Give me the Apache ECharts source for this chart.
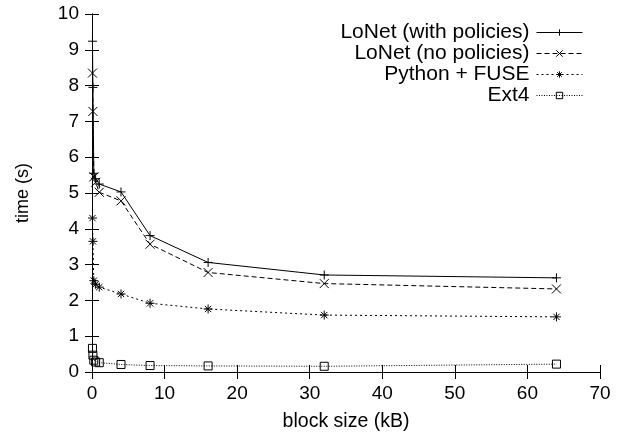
<!DOCTYPE html>
<html>
<head>
<meta charset="utf-8">
<script src="https://cdn.jsdelivr.net/npm/echarts@6/dist/echarts.min.js"></script>
<style>
  html, body { margin: 0; padding: 0; background: #fff; }
  #chart { width: 629px; height: 434px; }
</style>
</head>
<body>
<div id="chart"></div>
<script>
    // block sizes (kB)
    let blockSizes = [0.0625, 0.125, 0.25, 0.5, 1, 4, 8, 16, 32, 64];

    // time (s) per series
    let lonetPolicies = [9.24, 7.95, 5.55, 5.4, 5.25, 5.03, 3.81, 3.06, 2.71, 2.63];
    let lonetNoPolicies = [8.35, 7.28, 5.45, 5.3, 5.02, 4.78, 3.57, 2.78, 2.47, 2.32];
    let pythonFuse = [4.3, 3.65, 2.55, 2.45, 2.37, 2.18, 1.92, 1.76, 1.59, 1.54];
    let ext4 = [0.66, 0.47, 0.33, 0.28, 0.26, 0.21, 0.18, 0.17, 0.16, 0.22];

    let xTicks = [0, 10, 20, 30, 40, 50, 60, 70];
    let yTicks = [0, 1, 2, 3, 4, 5, 6, 7, 8, 9, 10];

    let seriesNames = ['LoNet (with policies)', 'LoNet (no policies)', 'Python + FUSE', 'Ext4'];

    let font = '"Liberation Sans", Arial, Helvetica, sans-serif';

    // gnuplot style point marks
    let marks = {
        plus: 'path://M0,5L10,5M5,0L5,10',
        cross: 'path://M0,0L10,10M10,0L0,10',
        star: 'path://M0,5L10,5M5,0L5,10M1.5,1.5L8.5,8.5M8.5,1.5L1.5,8.5',
        box: 'path://M0,0L10,0L10,10L0,10Z'
    };

    function pairs(values) {
        return blockSizes.map((x, i) => [x, values[i]]);
    }

    function makeSeries(name, values, symbol, size, dash) {
        return {
            name: name,
            type: 'line',
            data: pairs(values),
            symbol: symbol,
            symbolSize: size,
            showAllSymbol: true,
            lineStyle: { color: '#000', width: 1, type: dash },
            itemStyle: { color: 'rgba(0,0,0,0)', borderColor: '#000', borderWidth: 1 },
            emphasis: { disabled: true }
        };
    }

    let chart = echarts.init(document.getElementById('chart'));

    let axisText = { color: '#000', fontSize: 19, fontFamily: font };

    let option = {
        animation: false,
        backgroundColor: '#fff',
        grid: { left: 92, right: 29, top: 14, bottom: 62, outerBoundsMode: 'none', containLabel: false },
        legend: {
            orient: 'vertical',
            right: 46,
            top: 22,
            padding: 0,
            align: 'right',
            itemWidth: 46,
            itemHeight: 8,
            itemGap: 0,
            lineStyle: { width: 1 },
            itemStyle: { borderWidth: 1 },
            textStyle: { color: '#000', fontSize: 21, lineHeight: 19.2, fontFamily: font, padding: [0, 2, 0, 0] },
            data: seriesNames
        },
        xAxis: [
            {
                type: 'value',
                min: xTicks[0],
                max: xTicks[xTicks.length - 1],
                interval: 10,
                name: 'block size (kB)',
                nameLocation: 'middle',
                nameGap: 40,
                nameTextStyle: { color: '#000', fontSize: 19.5, fontFamily: font },
                axisLine: { lineStyle: { color: '#000', width: 1 } },
                axisTick: { inside: true, length: 7, lineStyle: { color: '#000' } },
                axisLabel: Object.assign({ margin: 12 }, axisText),
                splitLine: { show: false }
            },
            {
                type: 'value',
                position: 'top',
                min: xTicks[0],
                max: xTicks[xTicks.length - 1],
                interval: 10,
                axisLine: { lineStyle: { color: '#000', width: 1 } },
                axisTick: { inside: true, length: 7, lineStyle: { color: '#000' } },
                axisLabel: { show: false },
                splitLine: { show: false }
            }
        ],
        yAxis: [
            {
                type: 'value',
                min: yTicks[0],
                max: yTicks[yTicks.length - 1],
                interval: 1,
                name: 'time (s)',
                nameLocation: 'middle',
                nameGap: 60,
                nameTextStyle: { color: '#000', fontSize: 18, fontFamily: font },
                axisLine: { lineStyle: { color: '#000', width: 1 } },
                axisTick: { inside: true, length: 7, lineStyle: { color: '#000' } },
                axisLabel: Object.assign({ margin: 13 }, axisText),
                splitLine: { show: false }
            },
            {
                type: 'value',
                position: 'right',
                min: yTicks[0],
                max: yTicks[yTicks.length - 1],
                interval: 1,
                axisLine: { lineStyle: { color: '#000', width: 1 } },
                axisTick: { inside: true, length: 7, lineStyle: { color: '#000' } },
                axisLabel: { show: false },
                splitLine: { show: false }
            }
        ],
        series: [
            makeSeries(seriesNames[0], lonetPolicies, marks.plus, 9, 'solid'),
            makeSeries(seriesNames[1], lonetNoPolicies, marks.cross, 9, [5, 3]),
            makeSeries(seriesNames[2], pythonFuse, marks.star, 9, [2, 3]),
            makeSeries(seriesNames[3], ext4, marks.box, 8, [1, 1.5])
        ]
    };

    chart.setOption(option);
</script>
</body>
</html>
